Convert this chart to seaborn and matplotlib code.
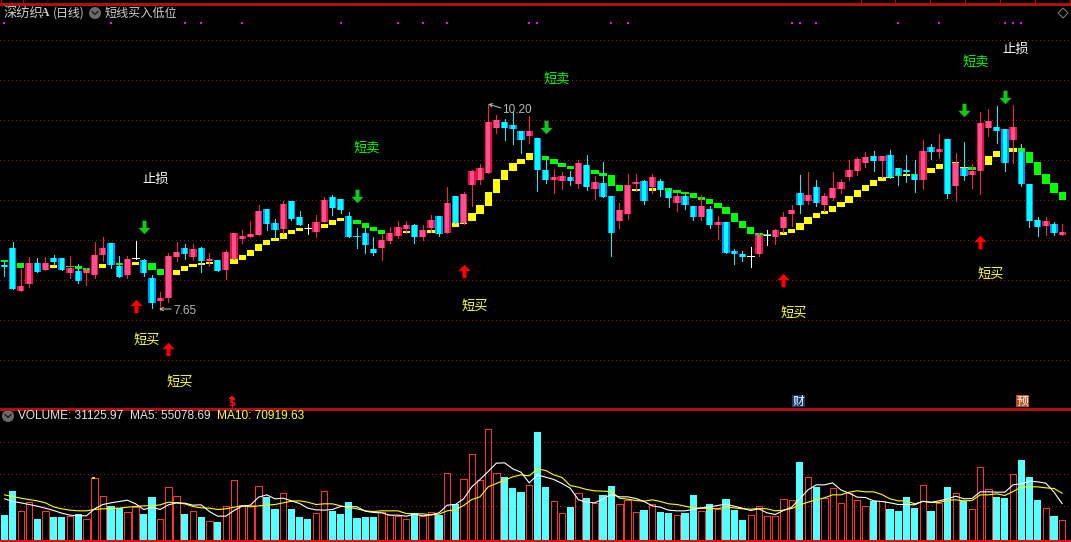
import numpy as np
import pandas as pd
import matplotlib
matplotlib.use("Agg")
import matplotlib.pyplot as plt
from matplotlib.patches import Circle, Polygon, Rectangle
import seaborn as sns

# price pane values are levels on the (unlabelled) chart scale, volume in thousands
high = [147,166,139,151,150,151,153,150,152,144,140,166,171,165,152,152,167,149,133,116,
        155,166,164,164,161,155,148,158,175,178,187,203,199,189,207,207,197,184,193,211,
        213,209,196,180,180,171,174,181,187,187,184,183,193,192,221,212,216,238,244,303,
        293,289,297,277,292,270,248,239,236,237,248,253,232,246,212,205,234,234,228,234,
        229,220,215,214,202,213,202,192,186,159,157,161,175,178,179,196,203,233,236,228,
        215,236,229,248,251,256,257,252,258,240,253,248,268,264,274,269,255,266,244,296,
        299,302,279,303,264,224,191,191,186,184]
body_top = [143,160,122,145,145,145,150,150,140,137,138,153,160,165,142,149,150,148,130,110,
            152,156,160,159,160,149,148,156,175,172,174,197,199,185,204,207,191,180,186,208,
            211,209,192,172,175,159,168,175,181,183,183,178,188,192,205,212,214,237,240,286,
            288,286,283,277,277,270,238,231,232,231,245,243,226,225,212,198,223,226,227,231,
            227,217,212,212,202,202,199,186,186,157,154,152,173,173,178,191,198,215,213,221,
            212,220,226,238,249,251,252,252,253,240,238,233,257,261,259,269,245,240,237,285,
            287,281,279,281,256,224,188,187,184,176]
body_bot = [141,119,117,124,136,138,146,138,135,127,135,133,153,143,131,133,150,135,105,107,
            110,151,154,151,147,147,137,138,149,169,171,173,184,178,179,189,183,180,176,186,
            200,198,171,171,163,155,160,167,172,179,171,171,180,174,175,185,185,223,228,235,
            280,280,279,268,272,238,228,228,227,227,224,221,219,211,175,187,194,224,207,221,
            218,210,205,203,191,191,183,183,155,154,151,152,154,173,171,180,194,203,207,205,
            203,210,219,231,237,245,247,247,231,233,236,228,228,256,256,214,222,232,233,237,
            280,277,245,268,224,187,181,182,175,173]
low = [132,119,117,121,136,138,143,138,130,125,123,130,147,140,131,130,149,132,100,98,
       106,147,149,148,136,142,137,129,149,165,171,173,178,170,175,188,183,174,171,186,
       193,195,171,160,155,153,148,165,170,175,165,168,176,172,175,185,184,202,224,235,
       275,268,264,255,265,217,225,215,219,223,220,218,209,211,152,180,189,217,204,215,
       212,201,197,199,188,188,180,169,155,144,147,141,152,163,164,176,182,195,204,202,
       197,208,215,228,233,241,237,231,230,223,226,216,219,249,250,210,207,228,220,214,
       272,265,237,245,222,181,172,173,173,173]

band_top = [148,147,145,142,144,143,143,143,142,142,140,140,144,146,145,145,146,144,145,139,
            136,138,142,144,145,146,147,149,149,153,158,164,168,170,175,178,180,180,181,184,
            188,190,188,188,185,181,178,172,176,177,178,177,178,182,185,185,185,195,203,216,
            229,238,245,249,255,255,252,249,245,242,240,238,238,235,233,223,220,219,218,220,
            222,220,218,216,215,211,209,205,201,195,187,181,175,174,173,176,179,185,191,195,
            197,202,206,212,218,223,228,231,231,233,234,234,236,240,244,246,246,241,241,252,
            252,257,259,260,260,256,246,234,225,216]
band_bot = [146,145,140,140,141,141,140,140,141,139,138,137,140,144,143,143,143,141,138,133,
            133,133,137,141,143,144,145,146,144,148,152,157,163,167,169,174,177,179,178,180,
            183,187,186,184,180,177,174,170,174,175,175,174,175,178,180,181,184,187,194,202,
            215,228,237,244,248,251,248,244,241,239,236,234,234,232,222,217,217,217,215,217,
            220,217,215,214,210,208,204,200,194,186,180,174,173,172,171,173,175,178,184,190,
            194,196,201,205,211,217,222,227,230,232,232,233,234,235,239,243,243,240,238,246,
            243,251,256,256,256,245,233,224,215,208]
band_kind = ("g"*6 + "y"*2 + "g"*3 + "y"*3 + "g"*2 + "y" + "g"*3 + "y"*17 + "g" + "y"*4 + "g"*6
             + "y"*17 + "g"*12 + "y"*4 + "g"*13 + "y"*15 + "g" + "y" + "g" + "y"*6 + "g" + "y"*5 + "g"*6)

volume = [39,75,44.5,58,33,44.5,36,36,37,40,32.5,94,67,52.5,49,43,50,40.5,66,32.5,
          80.5,67,40.5,44.5,36,29.5,28.5,52,91,53.5,53.5,82,66,48,71.5,48,36,33,41.5,74.5,
          45,40.5,58.5,34.5,36,36,43.5,38.5,37,32.5,42,37,43,38,101.5,54.5,92.5,130,91,167.5,
          101.5,96,79.5,73.5,83.5,163.5,81,59.5,41.5,51,71.5,64.5,56.5,69,82.5,55,61,43,46.5,55,
          43.5,42,38.5,42,69,44.5,55.5,47.5,63,46.5,31.5,38.5,52,37,37,62.5,61,118.5,95.5,81,
          64,79,56.5,71.5,61,52,59.5,60,48,45,66,49.5,83.5,45,56.5,81,71.5,59.5,47.5,110.5,
          77.5,66,64.5,100,121.5,96,61.5,49,37.5,31.13]
vol_kind = ("ccrrcrccrcrrrccrrccrrrcrcrcrrrrrccrcccrrcccc"
            "ccrrrrcrrcrcrrrrrcccrccrrcrcrccrrrcrccrccrcr"
            "cccrrrrrrcrcrrrrrrcrccccrcrcrcrrrccrcccrcr")

ma5 = [62.5,58.5,56.5,54,51.5,48.5,45,41,38,37,37,47.5,54,56.5,58.5,60.5,55,46.5,50,46.5,
       53.5,56.5,56,53,53.5,43.5,36.5,36.5,45,51.5,53,65,68.5,62.5,63.5,59.5,55.5,48.5,46,45.5,
       46.5,51,51,50.5,44,42,41.5,38,38,36.5,39.5,37,38.5,41.5,53,54,62.5,80.5,91.5,103.5,
       116,116.5,107.5,102.5,86.5,98.5,95,91.5,85.5,78.5,61,57.5,56.5,62.5,69,65.5,65.5,63,58.5,52,
       50,45.5,44.5,44.5,46.5,49,50.5,52.5,54.5,51.5,48.5,45,47.5,41.5,39,45,50,62.5,76,83.5,
       83.5,86.5,76,71,65,64.5,59.5,58.5,56.5,54,54,53.5,59,57.5,59.5,62.5,66.5,62.5,63,73,
       73,72.5,72.5,83.5,85,89,88,86,72.5,55.08]
ma10 = [68.5,66,63.5,61.5,59.5,56.5,50.5,47.5,45.5,44.5,44.5,46.5,47.5,48,48.5,50,51,52,52,53.5,
        57.5,56.5,55,51,49,48.5,46.5,47.5,50,52,50.5,52,53,54,56.5,59,59.5,57.5,54,55,
        55,52,49.5,47.5,44.5,43.5,44.5,44.5,44.5,40.5,40,40,38.5,39.5,44.5,46,52.5,61.5,65.5,80.5,
        85.5,90.5,95.5,98.5,97,107.5,105,98.5,94.5,82.5,80,76.5,74.5,74,73.5,63.5,62,60,59,61,
        58.5,55,54,51.5,49,48.5,48,47.5,50.5,49,47.5,47,48,47.5,44.5,45.5,48,53.5,57.5,61,
        64,68.5,68.5,72.5,74.5,73,73,69,62.5,59.5,59.5,55,58.5,57,57,60.5,61,59.5,60,68.5,
        68.5,70,67.5,73.5,80,80.5,80.5,79,78,70.92]

main_grid = [48, 88, 128, 168, 208, 248, 288, 328, 368]
vol_grid = [52, 100, 148]
signal_dots = [0,13,22,24,29,41,48,51,54,64,65,74,76,96,97,99,109,114,122,123,124]
buy_arrows = [(16,102),(20,59),(56,137),(95,128),(119,166)]
sell_arrows = [(17,181),(43,212),(66,281),(117,298),(122,311)]
buy_labels = [(17.4,68),(21.4,26),(57.4,102),(96.3,95),(120.3,134)]
stop_labels = [(18.4,229),(123.3,359)]
sell_labels = [(44.2,260),(67.3,329),(118.4,346)]
top_ticks = [1, 23, 861, 895, 930, 965, 1000, 1035, 1070]

RED_EDGE, RED_MID = "#e8103c", "#ff4f90"
CYAN_EDGE, CYAN_MID = "#0090ff", "#00ffff"
SEP = "#b01010"
GRID = "#981818"
DOTS = (0, (0.8, 3.2))
PX = 0.72  # one pixel, in points

sns.set_theme(style="dark", rc={"figure.facecolor": "black", "axes.facecolor": "black"})
plt.rcParams["font.family"] = ["Noto Sans CJK SC", "DejaVu Sans"]
plt.rcParams["patch.antialiased"] = False
plt.rcParams["lines.antialiased"] = False

idx = np.arange(len(high))
df = pd.DataFrame({"i": idx, "vol": volume, "kind": list(vol_kind), "ma5": ma5, "ma10": ma10})

W, H = 1071, 542
SPLIT = 408
fig = plt.figure(figsize=(W / 100, H / 100), dpi=100, facecolor="black")
ax = fig.add_axes([0, (H - SPLIT) / H, 1, SPLIT / H])
ax_vol = fig.add_axes([0, 0, 1, (H - SPLIT) / H])
xlim = (-0.5366, 130.07)

# price pane
ax.hlines(main_grid, *xlim, colors=GRID, linestyles=DOTS, linewidth=PX, zorder=1)
band_colors = ["#00ff00" if k == "g" else "#ffff00" for k in band_kind]
ax.bar(idx, np.array(band_top) - np.array(band_bot), bottom=band_bot, width=0.9,
       color=band_colors, linewidth=0, zorder=2)

for i in idx:
    t, b = body_top[i], body_bot[i]
    if t == b:
        ax.vlines(i, low[i], high[i], colors="white", linewidth=PX, zorder=3)
        ax.hlines(t, i - 0.4, i + 0.4, colors="white", linewidth=PX, zorder=3)
        continue
    up = vol_kind[i] == "r"
    edge, mid = (RED_EDGE, RED_MID) if up else (CYAN_EDGE, CYAN_MID)
    wick = "#ff2038" if up else "#20e8ff"
    ax.vlines(i, low[i], high[i], colors=wick, linewidth=PX, zorder=3)
    ax.bar(i, t - b, bottom=b, width=0.9, color=edge, linewidth=0, zorder=4)
    ax.bar(i, t - b, bottom=b, width=0.55, color=mid, linewidth=0, zorder=5)

up_arrow = [(0, 1), (0.9, 0.05), (0.3, 0.05), (0.3, -1), (-0.3, -1), (-0.3, 0.05), (-0.9, 0.05)]
down_arrow = [(x, -y) for x, y in up_arrow]
ax.scatter(*zip(*buy_arrows), marker=up_arrow, s=95, color="#ff0000", linewidth=0, zorder=6)
ax.scatter(*zip(*sell_arrows), marker=down_arrow, s=95, color="#10c818", linewidth=0, zorder=6)
ax.scatter(signal_dots, [385] * len(signal_dots), marker="s", s=3, color="#ff00ff", linewidth=0, zorder=6)

for x, y in buy_labels:
    ax.text(x, y, "短买", color="#ffff40", fontsize=9.5, ha="center", va="center", zorder=7)
for x, y in stop_labels:
    ax.text(x, y, "止损", color="white", fontsize=9.5, ha="center", va="center", zorder=7)
for x, y in sell_labels:
    ax.text(x, y, "短卖", color="#00ff00", fontsize=9.5, ha="center", va="center", zorder=7)

ax.set_xlim(*xlim)
ax.set_ylim(0, SPLIT)
ax.axis("off")

# volume pane
ax_vol.hlines(vol_grid, *xlim, colors=GRID, linestyles=DOTS, linewidth=PX, zorder=1)
sns.barplot(data=df[df["kind"] == "c"], x="i", y="vol", native_scale=True, color="#55ffff",
            saturation=1, width=0.88, linewidth=0, ax=ax_vol, zorder=2)
sns.barplot(data=df[df["kind"] == "r"], x="i", y="vol", native_scale=True, color="#ff3030",
            saturation=1, width=0.76, fill=False, linewidth=PX, ax=ax_vol, zorder=2)
sns.lineplot(data=df, x="i", y="ma10", color="#ffff00", linewidth=0.8, antialiased=True, ax=ax_vol, zorder=4)
sns.lineplot(data=df, x="i", y="ma5", color="white", linewidth=0.8, antialiased=True, ax=ax_vol, zorder=4)
ax_vol.set_xlim(*xlim)
ax_vol.set_ylim(-2.25, 198.75)
ax_vol.axis("off")

# screen furniture, in pixels
ov = fig.add_axes([0, 0, 1, 1], facecolor="none")
ov.set_xlim(0, W)
ov.set_ylim(H, 0)
ov.axis("off")
ov.hlines([3.5, SPLIT + 0.5], 0, W, colors=SEP, linewidth=0.75)
ov.hlines(540.5, 0, W, colors="#e01010", linewidth=0.75)
ov.vlines(top_ticks, 0, 3, colors=SEP, linewidth=PX)

LIGHT = "#d0d0d0"
ov.text(3, 13.5, "深纺织", color=LIGHT, fontsize=9.5, va="center")
ov.text(41, 13.5, "A", color=LIGHT, fontsize=8.5, va="center", family="Liberation Serif", weight="bold")
ov.text(53, 13.5, "(日线)", color=LIGHT, fontsize=8.6, va="center")
ov.text(105, 13.5, "短线买入低位", color=LIGHT, fontsize=8.7, va="center")
for cx, cy in [(95, 13), (8, 416)]:
    ov.add_patch(Circle((cx, cy), 6, color="#6a6a6a", linewidth=0, antialiased=True))
    ov.plot([cx - 3, cx, cx + 3], [cy - 1.5, cy + 1.5, cy - 1.5], color="#1a1a1a", linewidth=1,
            antialiased=True)
ov.add_patch(Polygon([(1063, 8), (1068, 13), (1063, 18), (1058, 13)], fill=False,
                     edgecolor="#808080", linewidth=PX, antialiased=True))

ov.text(18, 416, "VOLUME: 31125.97", color="#e4e4e4", fontsize=8.6, va="center", family="Liberation Sans")
ov.text(130, 416, "MA5: 55078.69", color="#e4e4e4", fontsize=8.6, va="center", family="Liberation Sans")
ov.text(217, 416, "MA10: 70919.63", color="#ffff40", fontsize=8.6, va="center", family="Liberation Sans")

# high and low price tags
ov.annotate("", xy=(159, 309), xytext=(171, 309), arrowprops=dict(arrowstyle="->", color="#c0c0c0", lw=PX,
                                                                   shrinkA=0, shrinkB=0, mutation_scale=6,
                                                                   antialiased=True))
ov.text(173, 310.5, "7.65", color="#b8b8b8", fontsize=8.5, va="center", family="Liberation Sans")
ov.annotate("", xy=(488, 104), xytext=(501, 108), arrowprops=dict(arrowstyle="->", color="#c0c0c0", lw=PX,
                                                                   shrinkA=0, shrinkB=0, mutation_scale=6,
                                                                   antialiased=True))
ov.text(502, 110, "10.20", color="#b8b8b8", fontsize=8.5, va="center", family="Liberation Sans")

# event flags above the pane split
ov.add_patch(Polygon([(232, 396), (229, 399), (235, 399)], color="#ff1010", linewidth=0))
ov.text(232, 402.5, "$", color="#ff1010", fontsize=7.5, ha="center", va="center", weight="bold", family="DejaVu Sans")
ov.add_patch(Rectangle((792, 395), 13, 12, color="#0c3a6a", linewidth=0))
ov.text(798.5, 401, "财", color="white", fontsize=8.5, ha="center", va="center")
ov.add_patch(Rectangle((1015.5, 395), 13, 12, color="#b8501c", linewidth=0))
ov.text(1022, 401, "预", color="white", fontsize=8.5, ha="center", va="center")
ov.add_patch(Rectangle((91.5, 477), 3.5, 2, color="#ffd000", linewidth=0))

fig.savefig("out.png", dpi=100, facecolor="black")
